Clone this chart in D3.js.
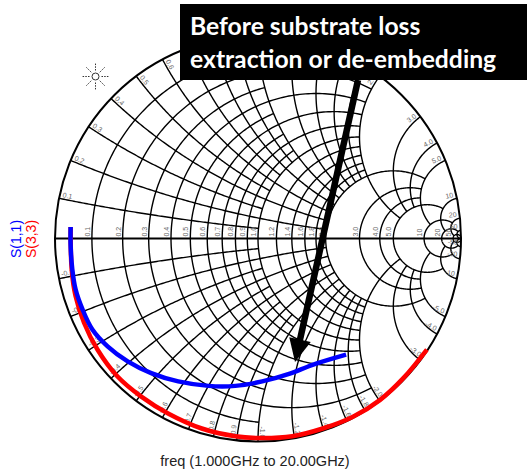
<!DOCTYPE html>
<html>
<head>
<meta charset="utf-8">
<script src="https://cdn.jsdelivr.net/npm/d3@7"></script>
<style>
  body { margin: 0; background: #fff; }
</style>
</head>
<body>
<div id="chart"></div>
<script>
const W = 527, H = 473;
const CX = 258, CY = 238.5, RAD = 203;

// grid values: [value, extent of the other coordinate]
const rGrid = [
  [0.1, 1], [0.2, 2], [0.3, 1], [0.4, 2], [0.5, 1], [0.6, 2], [0.7, 1], [0.8, 2], [0.9, 1], [1.0, 2],
  [1.2, 2], [1.4, 2], [1.6, 2], [1.8, 2], [2.0, 5],
  [3, 5], [4, 5], [5, 10], [10, 20], [20, 50], [50, Infinity]
];
const xGrid = [
  [0.1, 1], [0.2, 2], [0.3, 1], [0.4, 2], [0.5, 1], [0.6, 2], [0.7, 1], [0.8, 2], [0.9, 1], [1.0, 2],
  [1.2, 2], [1.4, 2], [1.6, 2], [1.8, 2], [2.0, 5],
  [3, 5], [4, 5], [5, 10], [10, 20], [20, 50], [50, Infinity]
];

// reflection coefficient samples
const s11Re = [-0.923, -0.923, -0.915, -0.899, -0.865, -0.816, -0.741, -0.642, -0.526, -0.393, -0.244, -0.112, 0.021, 0.153, 0.269, 0.434];
const s11Im = [0.057, -0.034, -0.150, -0.249, -0.348, -0.448, -0.531, -0.605, -0.663, -0.704, -0.726, -0.726, -0.704, -0.667, -0.622, -0.572];
const s33Re = [-0.923, -0.918, -0.899, -0.857, -0.791, -0.692, -0.575, -0.443, -0.277, -0.112, 0.021, 0.169, 0.319, 0.468, 0.600, 0.716, 0.832];
const s33Im = [0.057, -0.150, -0.282, -0.415, -0.547, -0.680, -0.779, -0.862, -0.936, -0.974, -0.983, -0.974, -0.936, -0.878, -0.796, -0.688, -0.547];

const traceNames = ["S(1,1)", "S(3,3)"];
const freqLabel = "freq (1.000GHz to 20.00GHz)";
const noteLines = ["Before substrate loss", "extraction or de-embedding"];

const svg = d3.select("#chart").append("svg")
  .attr("width", W).attr("height", H)
  .style("font-family", "Liberation Sans, Arial, sans-serif");

const gx = d3.scaleLinear().domain([-1, 1]).range([CX - RAD, CX + RAD]);
const gy = d3.scaleLinear().domain([-1, 1]).range([CY + RAD, CY - RAD]);

// z = r + jx  ->  gamma
function gamma(r, x) {
  const d = (r + 1) * (r + 1) + x * x;
  return [(r * r - 1 + x * x) / d, (2 * x) / d];
}
const line = d3.line().x(d => gx(d[0])).y(d => gy(d[1]));

const grid = svg.append("g")
  .attr("fill", "none").attr("stroke", "#000").attr("stroke-width", 1.4);

// resistance circles
rGrid.forEach(([r, lim]) => {
  const c = r / (r + 1), rho = 1 / (r + 1);
  if (!isFinite(lim)) {
    grid.append("circle").attr("cx", gx(c)).attr("cy", gy(0))
      .attr("r", gx(rho) - gx(0));
    return;
  }
  const p = gamma(r, lim);
  const a = Math.atan2(p[1], p[0] - c);
  const pts = d3.range(0, 201).map(i => {
    const t = a + (2 * Math.PI - 2 * a) * i / 200;
    return [c + rho * Math.cos(t), rho * Math.sin(t)];
  });
  grid.append("path").attr("d", line(pts));
});

// reactance arcs
xGrid.forEach(([x, lim]) => {
  [1, -1].forEach(sg => {
    const cy = 1 / x, rho = 1 / x;
    const p0 = gamma(0, x);
    const b0 = Math.atan2(p0[1] - cy, p0[0] - 1);
    let b1 = -Math.PI / 2;
    if (isFinite(lim)) {
      const p1 = gamma(lim, x);
      b1 = Math.atan2(p1[1] - cy, p1[0] - 1);
    }
    if (b1 < b0) b1 += 2 * Math.PI;
    const pts = d3.range(0, 121).map(i => {
      const t = b0 + (b1 - b0) * i / 120;
      return [1 + rho * Math.cos(t), sg * (cy + rho * Math.sin(t))];
    });
    grid.append("path").attr("d", line(pts));
  });
});

// real axis and outer circle
svg.append("line")
  .attr("x1", gx(-1)).attr("x2", gx(1)).attr("y1", gy(0)).attr("y2", gy(0))
  .attr("stroke", "#000").attr("stroke-width", 2);
svg.append("circle").attr("cx", gx(0)).attr("cy", gy(0)).attr("r", RAD)
  .attr("fill", "none").attr("stroke", "#000").attr("stroke-width", 2);

const fmt = v => v >= 10 ? d3.format("d")(v) : d3.format(".1f")(v);

// resistance labels on the axis
const lab = svg.append("g").attr("font-size", 7).attr("fill", "#666");
rGrid.forEach(([r]) => {
  const px = gx((r - 1) / (r + 1)) - 2, py = gy(0) - 2;
  lab.append("text").attr("x", px).attr("y", py)
    .attr("transform", `rotate(-90,${px},${py})`)
    .text(fmt(r));
});

// reactance labels on the rim
xGrid.forEach(([x]) => {
  [1, -1].forEach(sg => {
    const th = sg * (Math.PI - 2 * Math.atan(x));
    const px = gx(0.985 * Math.cos(th)), py = gy(0.985 * Math.sin(th));
    const left = Math.cos(th) < 0;
    const rot = left ? 180 - th * 180 / Math.PI : -th * 180 / Math.PI;
    lab.append("text").attr("x", px).attr("y", py)
      .attr("dy", "-0.25em")
      .attr("text-anchor", left ? "start" : "end")
      .attr("transform", `rotate(${rot},${px},${py})`)
      .text((sg < 0 ? "-" : "") + fmt(x));
  });
});

// traces
const trace = d3.line().x(d => gx(d[0])).y(d => gy(d[1])).curve(d3.curveCatmullRom);
svg.append("path").datum(s33Re.map((v, i) => [v, s33Im[i]]))
  .attr("d", trace).attr("fill", "none").attr("stroke", "#ff0000").attr("stroke-width", 4.5);
svg.append("path").datum(s11Re.map((v, i) => [v, s11Im[i]]))
  .attr("d", trace).attr("fill", "none").attr("stroke", "#0000ff").attr("stroke-width", 4.5);

// legend
[["#0000ff", 21], ["#ff0000", 36]].forEach(([col, bx], i) => {
  svg.append("text").attr("x", bx).attr("y", 239)
    .attr("transform", `rotate(-90,${bx},239)`)
    .attr("text-anchor", "middle").attr("font-size", 14).attr("fill", col)
    .text(traceNames[i]);
});

// frequency caption
svg.append("text").attr("x", 255).attr("y", 466).attr("text-anchor", "middle")
  .attr("font-size", 14.5).attr("fill", "#222").text(freqLabel);

// starburst logo
const logo = svg.append("g").attr("transform", "translate(95.5,76.5)")
  .attr("stroke", "#333").attr("stroke-width", 1).attr("fill", "none");
logo.append("circle").attr("r", 3.5);
d3.range(8).forEach(k => {
  const a = k * Math.PI / 4;
  logo.append("line")
    .attr("x1", 6 * Math.cos(a)).attr("y1", 6 * Math.sin(a))
    .attr("x2", 13 * Math.cos(a)).attr("y2", 13 * Math.sin(a))
    .attr("stroke-dasharray", "1.5,1.2");
});

// annotation box
svg.append("rect").attr("x", 180).attr("y", 4).attr("width", 347).attr("height", 76)
  .attr("fill", "#000");
noteLines.forEach((t, i) => {
  svg.append("text").attr("x", 190).attr("y", 35 + i * 33)
    .attr("font-family", "Lato, sans-serif").attr("font-weight", 700)
    .attr("font-size", 24.7).attr("fill", "#fff").text(t);
});

// arrow
const S = [358, 80], T = [295, 362];
const len = Math.hypot(T[0] - S[0], T[1] - S[1]);
const u = [(T[0] - S[0]) / len, (T[1] - S[1]) / len], n = [-u[1], u[0]];
const B = [T[0] - 23 * u[0], T[1] - 23 * u[1]];
svg.append("line").attr("x1", S[0]).attr("y1", S[1])
  .attr("x2", B[0] + 2 * u[0]).attr("y2", B[1] + 2 * u[1])
  .attr("stroke", "#000").attr("stroke-width", 6.5);
svg.append("path")
  .attr("d", d3.line()([T, [B[0] + 11 * n[0], B[1] + 11 * n[1]], [B[0] - 11 * n[0], B[1] - 11 * n[1]]]) + "Z")
  .attr("fill", "#000");
</script>
</body>
</html>
